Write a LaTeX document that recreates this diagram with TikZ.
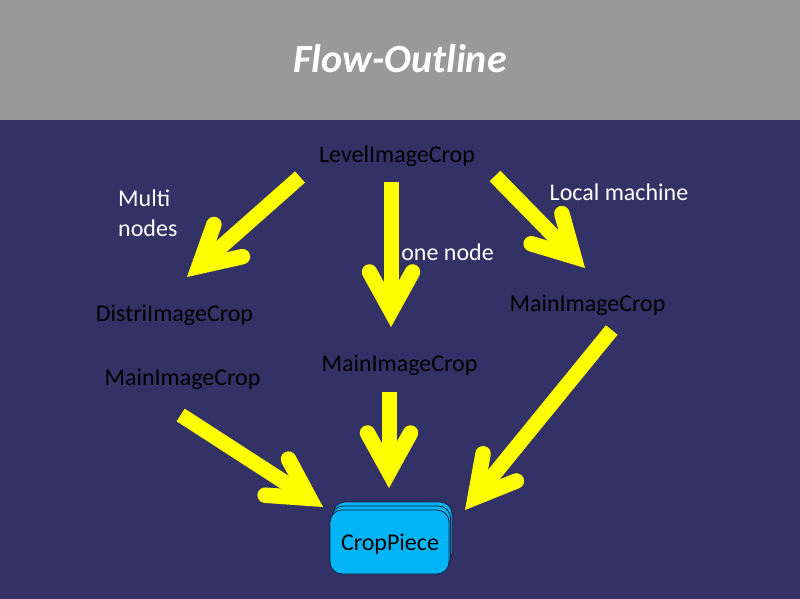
\documentclass[tikz,border=0pt]{standalone}
\usepackage{fontspec}
\setmainfont{Carlito}
\usetikzlibrary{calc}
\definecolor{bandgray}{RGB}{153,153,153}
\definecolor{bgblue}{RGB}{51,50,102}
\definecolor{arrowyellow}{RGB}{255,255,0}
\definecolor{piecefill}{RGB}{0,180,245}
\definecolor{pieceedge}{RGB}{20,30,60}
\tikzset{
  lbl/.style={inner sep=0pt, text=black, font=\fontsize{24}{30}\selectfont},
  wlbl/.style={inner sep=0pt, text=white, font=\fontsize{24}{30}\selectfont, align=left},
  shaft/.style={draw=arrowyellow, line width=15pt, line cap=butt},
  barb/.style={draw=arrowyellow, line width=15.5pt, line cap=round, line join=miter, miter limit=20},
  piece/.style={draw=pieceedge, fill=piecefill, line width=0.8pt, rounded corners=12pt},
}
\newcommand\yarrow[2]{%
  \coordinate (#2-v) at ($(#2)!16pt!(#1)$);
  \coordinate (#2-p) at ($(#2)!55pt!(#1)$);
  \draw[shaft] (#1) -- (#2-v);
  \draw[barb] ($(#2-p)!21.5pt!90:(#2)$) -- (#2-v) -- ($(#2-p)!21.5pt!-90:(#2)$);
}
\begin{document}
\begin{tikzpicture}[x=1pt,y=-1pt]
\useasboundingbox (0,0) rectangle (800,599);
\fill[bgblue] (0,0) rectangle (800,599);
\fill[bandgray] (0,0) rectangle (800,120);
\node[inner sep=0pt, text=white, font=\fontsize{40}{48}\selectfont\bfseries\itshape, anchor=base] (title) at (400,73) {Flow-Outline};

% text nodes
\node[lbl, anchor=base] (level) at (397,162) {LevelImageCrop};
\node[lbl, anchor=base] (distri) at (174.5,321.7) {DistriImageCrop};
\node[lbl, anchor=base] (mainL) at (182.5,385) {MainImageCrop};
\node[lbl, anchor=base] (mainC) at (399.5,371.7) {MainImageCrop};
\node[lbl, anchor=base] (mainR) at (587.5,311.7) {MainImageCrop};
\node[wlbl, anchor=base west] (multi) at (118,236.7) {Multi\\nodes};
\node[wlbl, anchor=base] (onenode) at (447.5,260) {one node};
\node[wlbl, anchor=base] (local) at (619,200) {Local machine};

% arrows
\coordinate (a1s) at (300,177); \coordinate (a1t) at (187,277);
\coordinate (a2s) at (391,182); \coordinate (a2t) at (391,327);
\coordinate (a3s) at (495,176); \coordinate (a3t) at (585,268);
\coordinate (a4s) at (180.7,415); \coordinate (a4t) at (323,507);
\coordinate (a5s) at (389,392); \coordinate (a5t) at (389,488);
\coordinate (a6s) at (611.7,330); \coordinate (a6t) at (465,510);
\yarrow{a1s}{a1t}
\yarrow{a2s}{a2t}
\yarrow{a3s}{a3t}
\yarrow{a4s}{a4t}
\yarrow{a5s}{a5t}
\yarrow{a6s}{a6t}

% CropPiece stack
\draw[piece] (333,502) rectangle (452,565);
\draw[piece] (331.5,506) rectangle (450.5,569.5);
\draw[piece] (330,510) rectangle (449,574);
\node[lbl, anchor=base] (crop) at (390,550) {CropPiece};
\end{tikzpicture}
\end{document}
